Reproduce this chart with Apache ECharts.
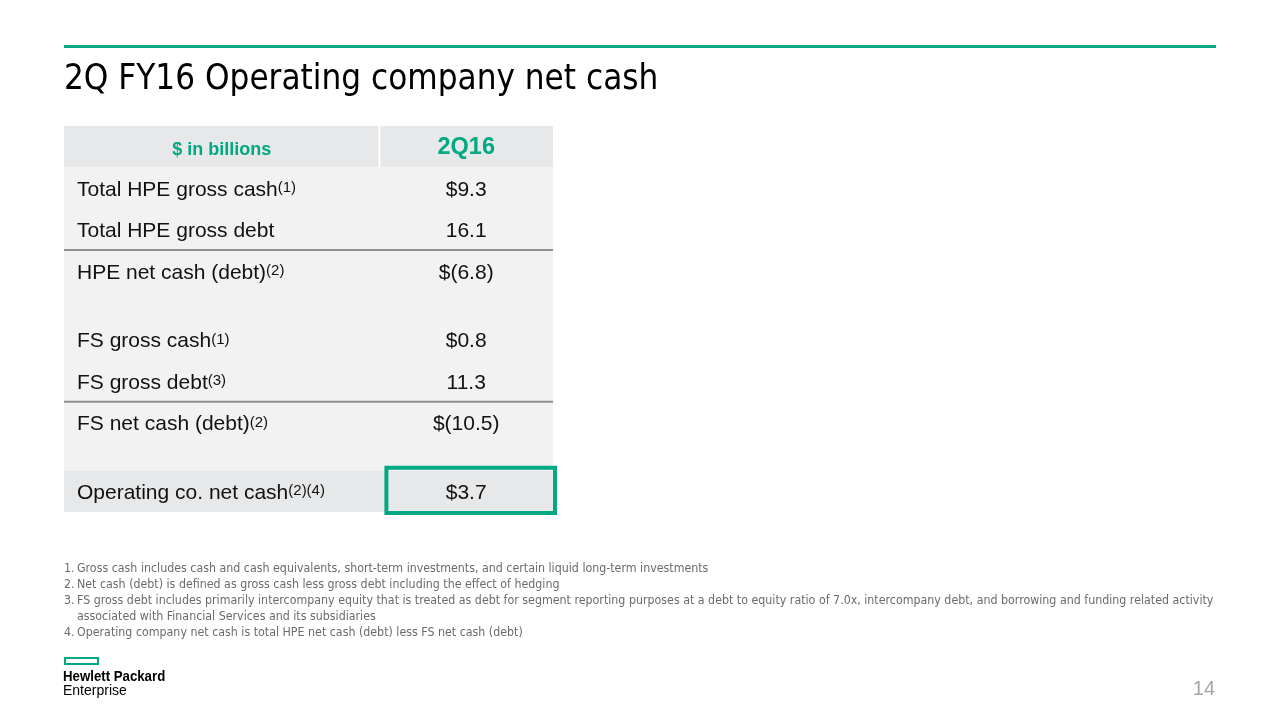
<!DOCTYPE html>
<html>
<head>
<meta charset="utf-8">
<script src="https://cdn.jsdelivr.net/npm/echarts@6/dist/echarts.min.js"></script>
<style>
html,body{margin:0;padding:0;background:#fff;}
#chart{width:1280px;height:720px;}
</style>
</head>
<body>
<div id="chart"></div>
<script>
// ---- data ----
const pageTitle = '2Q FY16 Operating company net cash';
const columnHeaders = ['$ in billions', '2Q16'];
const rowLabels = ['Total HPE gross cash', 'Total HPE gross debt', 'HPE net cash (debt)', 'FS gross cash', 'FS gross debt', 'FS net cash (debt)', 'Operating co. net cash'];
const rowNotes = ['(1)', '', '(2)', '(1)', '(3)', '(2)', '(2)(4)'];
const rowValues = [9.3, 16.1, -6.8, 0.8, 11.3, -10.5, 3.7];
const rowDollar = [true, false, true, true, false, true, true];
const rowGroup = [0, 0, 0, 1, 1, 1, 2];
const footnoteNumbers = ['1.', '2.', '3.', '', '4.'];
const footnoteLines = [
  'Gross cash includes cash and cash equivalents, short-term investments, and certain liquid long-term investments',
  'Net cash (debt) is defined as gross cash less gross debt including the effect of hedging',
  'FS gross debt includes primarily intercompany equity that is treated as debt for segment reporting purposes at a debt to equity ratio of 7.0x, intercompany debt, and borrowing and funding related activity',
  'associated with Financial Services and its subsidiaries',
  'Operating company net cash is total HPE net cash (debt) less FS net cash (debt)'
];
const pageNumber = '14';

// ---- layout helpers ----
const GREEN = '#01A982';
const UNITS_ROW = 3, UNITS_GAP = 2;
const COL_SPLIT = 0.645;
const rowStart = [];
let u = UNITS_ROW;
for (let i = 0; i < rowLabels.length; i++) {
  if (i > 0 && rowGroup[i] !== rowGroup[i - 1]) u += UNITS_GAP;
  rowStart.push(u);
  u += UNITS_ROW;
}
const totalUnits = u;
const rowEnd = rowStart.map((s, i) => i < rowStart.length - 1 ? rowStart[i + 1] : totalUnits);
function groupSize(g) { return rowGroup.filter(x => x === g).length; }
function isNetRow(i) {
  const g = rowGroup[i];
  return groupSize(g) > 1 && (i === rowGroup.length - 1 || rowGroup[i + 1] !== g);
}
function fmt(v, dollar) {
  if (v < 0) return '$(' + Math.abs(v).toFixed(1) + ')';
  return (dollar ? '$' : '') + v.toFixed(1);
}
const TABLE_FONT = '"Liberation Sans", Arial, sans-serif';

function renderItem(params, api) {
  const idx = api.value(0);
  const children = [];
  if (idx < 0) {
    const p0 = api.coord([0, 0]);
    const p1 = api.coord([1, UNITS_ROW]);
    const xs = api.coord([COL_SPLIT, 0])[0];
    children.push({ type: 'rect', shape: { x: p0[0], y: p0[1], width: xs - p0[0] - 1, height: p1[1] - p0[1] }, style: { fill: '#e7e8e9' } });
    children.push({ type: 'rect', shape: { x: xs + 1, y: p0[1], width: p1[0] - xs - 1, height: p1[1] - p0[1] }, style: { fill: '#e7e8e9' } });
    children.push({ type: 'text', style: { x: (p0[0] + xs) / 2, y: (p0[1] + p1[1]) / 2 + 3, text: columnHeaders[0], align: 'center', verticalAlign: 'middle', font: 'bold 18px ' + TABLE_FONT, fill: GREEN } });
    children.push({ type: 'text', style: { x: (xs + p1[0]) / 2, y: (p0[1] + p1[1]) / 2 + 1, text: columnHeaders[1], align: 'center', verticalAlign: 'middle', font: 'bold 23.5px ' + TABLE_FONT, fill: GREEN } });
    return { type: 'group', children };
  }
  const last = idx === rowLabels.length - 1;
  const p0 = api.coord([0, rowStart[idx]]);
  const p1 = api.coord([1, rowEnd[idx]]);
  const pm = api.coord([1, rowStart[idx] + UNITS_ROW]);
  const xs = api.coord([COL_SPLIT, 0])[0];
  children.push({ type: 'rect', shape: { x: p0[0], y: p0[1], width: p1[0] - p0[0], height: p1[1] - p0[1] }, style: { fill: last ? '#e7e8e9' : '#f2f2f2' } });
  if (isNetRow(idx)) {
    children.push({ type: 'line', shape: { x1: p0[0], y1: p0[1], x2: p1[0], y2: p0[1] }, style: { stroke: '#8f8f8f', lineWidth: 2 } });
  }
  const cy = (p0[1] + pm[1]) / 2 + 2;
  children.push({ type: 'text', style: {
    x: p0[0] + 13, y: cy, align: 'left', verticalAlign: 'middle',
    text: '{m|' + rowLabels[idx] + '}' + (rowNotes[idx] ? '{s|' + rowNotes[idx] + '}' : ''),
    rich: {
      m: { fontSize: 21, fontFamily: TABLE_FONT, fill: '#111', lineHeight: 25, verticalAlign: 'middle' },
      s: { fontSize: 15, fontFamily: TABLE_FONT, fill: '#111', verticalAlign: 'top', padding: [3, 0, 0, 0] }
    }
  } });
  children.push({ type: 'text', style: { x: (xs + p1[0]) / 2, y: cy, text: fmt(api.value(1), rowDollar[idx]), align: 'center', verticalAlign: 'middle', font: '21px ' + TABLE_FONT, fill: '#111' } });
  if (last) {
    children.push({ type: 'rect', shape: { x: xs + 7, y: p0[1] - 3, width: p1[0] - xs - 5, height: p1[1] - p0[1] + 4 }, style: { fill: 'none', stroke: GREEN, lineWidth: 4 } });
  }
  return { type: 'group', children };
}

const FN_FONT = '"Liberation Sans Narrow", "DejaVu Sans Condensed", sans-serif';
const graphics = [
  { type: 'line', shape: { x1: 64, y1: 46.5, x2: 1216, y2: 46.5 }, style: { stroke: GREEN, lineWidth: 3 } },
  { type: 'text', x: 64, y: 62, scaleX: 0.964, style: { text: pageTitle, font: '36px ' + FN_FONT, fill: '#000', verticalAlign: 'top' } },
  { type: 'rect', shape: { x: 65, y: 658, width: 33, height: 6 }, style: { fill: 'none', stroke: GREEN, lineWidth: 2 } },
  { type: 'text', x: 63, y: 670, scaleX: 0.945, style: { text: 'Hewlett Packard', font: 'bold 14px "Liberation Sans", Arial, sans-serif', fill: '#000', verticalAlign: 'top' } },
  { type: 'text', x: 63, y: 684, style: { text: 'Enterprise', font: '14px "Liberation Sans", Arial, sans-serif', fill: '#000', verticalAlign: 'top' } },
  { type: 'text', x: 1215, y: 689, style: { text: pageNumber, font: '20px "Liberation Sans", Arial, sans-serif', fill: '#a5a5a5', align: 'right', verticalAlign: 'middle' } }
];
footnoteLines.forEach((t, i) => {
  const y = 568.5 + i * 16;
  if (footnoteNumbers[i]) graphics.push({ type: 'text', x: 64, y: y, scaleX: 0.947, style: { text: footnoteNumbers[i], font: '13px ' + FN_FONT, fill: '#6b6b6b', verticalAlign: 'middle' } });
  graphics.push({ type: 'text', x: 77, y: y, scaleX: 0.947, style: { text: t, font: '13px ' + FN_FONT, fill: '#6b6b6b', verticalAlign: 'middle' } });
});

const chart = echarts.init(document.getElementById('chart'));
chart.setOption({
  animation: false,
  backgroundColor: '#fff',
  grid: { left: 64, top: 126, width: 489, height: 386 },
  xAxis: { type: 'value', min: 0, max: 1, show: false },
  yAxis: { type: 'value', inverse: true, min: 0, max: totalUnits, show: false },
  series: [{
    type: 'custom',
    renderItem: renderItem,
    clip: false,
    silent: true,
    encode: { x: -1, y: -1 },
    data: [[-1, 0]].concat(rowValues.map((v, i) => [i, v]))
  }],
  graphic: graphics
});
</script>
</body>
</html>
